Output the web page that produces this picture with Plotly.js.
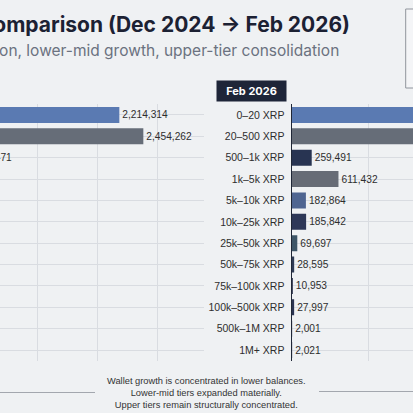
<!DOCTYPE html>
<html>
<head>
<meta charset="utf-8">
<script src="https://cdn.plot.ly/plotly-3.0.1.min.js"></script>
<style>
  html, body { margin: 0; padding: 0; background: #eff1f3; }
  #chart { width: 413px; height: 413px; }
</style>
</head>
<body>
<div id="chart"></div>
<script>
// ---- data ----
const tiers = ["0–20 XRP", "20–500 XRP", "500–1k XRP", "1k–5k XRP", "5k–10k XRP", "10k–25k XRP",
               "25k–50k XRP", "50k–75k XRP", "75k–100k XRP", "100k–500k XRP", "500k–1M XRP", "1M+ XRP"];
// Dec 2024 (only the first two labels and the tail of the third are visible; others estimated)
const dec2024 = [2214314, 2454262, 740471, 598214, 176905, 181337, 70842, 29118, 11204, 28476, 2045, 2003];
// Feb 2026 (first two bars run past the visible frame; estimated)
const feb2026 = [2735806, 2601947, 259491, 611432, 182864, 185842, 69697, 28595, 10953, 27997, 2001, 2021];
const tierColors = ["#5a7ab2", "#666d78", "#283452", "#676c76", "#4f6591", "#2e3858",
                    "#3e5668", "#2f3b55", "#262f4a", "#2b3452", "#2b3452", "#2b3452"];
const panelLabels = ["Dec 2024", "Feb 2026"];
const titleText = "XRP Holder Distribution Comparison (Dec 2024 → Feb 2026)";
const subtitleText = "Retail expansion, lower-mid growth, upper-tier consolidation";
const footerLines = ["Wallet growth is concentrated in lower balances.",
                     "Lower-mid tiers expanded materially.",
                     "Upper tiers remain structurally concentrated."];
const noteLines = ["Retail tiers expanded", "Lower-mid tiers grew", "Upper tiers consolidated", "Whale tiers steady"];

// ---- layout helpers (pixel -> paper) ----
const W = 413, H = 413;
const px = v => v / W;
const py = v => 1 - v / H;

const fmt = v => v.toLocaleString('en-US');
const labelFont = { family: "Liberation Sans, Arial, sans-serif", size: 10.2, color: "#2e2e2e" };

const traces = [
  {
    type: "bar", orientation: "h", name: panelLabels[0],
    x: dec2024, y: tiers, xaxis: "x", yaxis: "y",
    marker: { color: tierColors },
    text: dec2024.map(fmt), textposition: "outside", textfont: labelFont,
    cliponaxis: true, hoverinfo: "skip", showlegend: false
  },
  {
    type: "bar", orientation: "h", name: panelLabels[1],
    x: feb2026, y: tiers, xaxis: "x2", yaxis: "y2",
    marker: { color: tierColors },
    text: feb2026.map(fmt), textposition: "outside", textfont: labelFont,
    cliponaxis: true, hoverinfo: "skip", showlegend: false
  }
];

const gridColor = "#d9dce1";
const yDomain = [py(360.7), py(104.3)];

const layout = {
  width: W, height: H,
  margin: { l: 0, r: 0, t: 0, b: 0, autoexpand: false },
  paper_bgcolor: "#eff1f3", plot_bgcolor: "#eff1f3",
  bargap: 0.25,
  showlegend: false,
  xaxis: {
    domain: [0, px(204)], range: [1.021e6, 3.061e6],
    tick0: 2e5, dtick: 6e5, showticklabels: false, ticks: "",
    showgrid: true, gridcolor: gridColor, gridwidth: 1, zeroline: false, showline: false, fixedrange: true
  },
  yaxis: {
    domain: yDomain, type: "category", categoryorder: "array", categoryarray: tiers,
    autorange: "reversed", showticklabels: false, ticks: "",
    showgrid: true, gridcolor: gridColor, gridwidth: 1, zeroline: false, showline: false, fixedrange: true
  },
  xaxis2: {
    domain: [px(292), 1], range: [0, 1.592e6], anchor: "y2",
    tick0: 0, dtick: 1e6, showticklabels: false, ticks: "",
    showgrid: true, gridcolor: gridColor, gridwidth: 1, zeroline: false, showline: false, fixedrange: true
  },
  yaxis2: {
    domain: yDomain, anchor: "x2", type: "category", categoryorder: "array", categoryarray: tiers,
    autorange: "reversed", showticklabels: true, ticks: "", ticklabelstandoff: 4,
    tickfont: { family: "Liberation Sans, Arial, sans-serif", size: 10.5, color: "#2e2e2e" },
    showgrid: true, gridcolor: gridColor, gridwidth: 1, zeroline: false,
    showline: true, linecolor: "#1f2636", linewidth: 1.5, fixedrange: true
  },
  shapes: [
    { type: "line", xref: "paper", yref: "paper", x0: 0, x1: px(95), y0: py(392.5), y1: py(392.5),
      line: { color: "#a3a7ae", width: 1 } },
    { type: "line", xref: "paper", yref: "paper", x0: px(319), x1: 1.05, y0: py(391.5), y1: py(391.5),
      line: { color: "#a3a7ae", width: 1 } },
    { type: "rect", xref: "paper", yref: "paper", x0: px(405.7), x1: 1.1, y0: py(88), y1: py(9),
      line: { color: "#8f949c", width: 1 }, fillcolor: "#f4f5f7" }
  ],
  annotations: [
    { text: "<b>" + titleText + "</b>", xref: "paper", yref: "paper", x: px(352), y: py(25),
      xanchor: "right", yanchor: "middle", showarrow: false,
      font: { family: "Inter, sans-serif", size: 21, color: "#1c2133" } },
    { text: subtitleText, xref: "paper", yref: "paper", x: px(341), y: py(50),
      xanchor: "right", yanchor: "middle", showarrow: false,
      font: { family: "Inter, sans-serif", size: 15.5, color: "#6b7280" } },
    { text: "<b>" + panelLabels[1] + "</b>", xref: "paper", yref: "paper", x: px(251.5), y: py(91),
      xanchor: "center", yanchor: "middle", showarrow: false,
      bgcolor: "#1e2538", borderpad: 4, width: 61, height: 12,
      font: { family: "Inter, sans-serif", size: 11, color: "#ffffff" } },
    { text: footerLines.join("<br>"), xref: "paper", yref: "paper", x: px(206), y: py(392.5),
      xanchor: "center", yanchor: "middle", showarrow: false, align: "center",
      font: { family: "Liberation Sans, Arial, sans-serif", size: 9.3, color: "#333333" } },
    { text: noteLines.map(s => "<b>" + s + "</b>").join("<br>"), xref: "paper", yref: "paper",
      x: px(411), y: py(29), xanchor: "left", yanchor: "top", showarrow: false, align: "left",
      font: { family: "Liberation Sans, Arial, sans-serif", size: 10.5, color: "#1f2636" } }
  ]
};

Plotly.newPlot("chart", traces, layout, { staticPlot: true, displayModeBar: false });
</script>
</body>
</html>
